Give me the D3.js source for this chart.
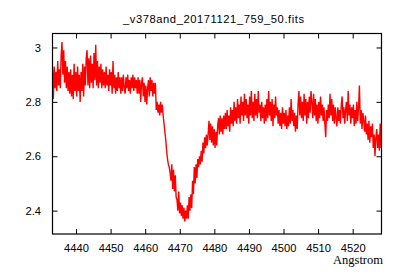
<!DOCTYPE html>
<html>
<head>
<meta charset="utf-8">
<script src="https://cdn.jsdelivr.net/npm/d3@7"></script>
<style>
  html, body { margin: 0; padding: 0; background: #fff; }
  svg { display: block; }
  .tick text { font-family: "Liberation Sans", Arial, sans-serif; font-size: 11.2px; fill: #000; }
</style>
</head>
<body>
<svg id="chart" width="400" height="280"></svg>
<script>
// ---- data ----
const titleText = "_v378and_20171121_759_50.fits";
const xLabel = "Angstrom";
const wlStart = 4433.2;   // first wavelength of the grid (Angstrom)
const wlStep = 0.25;      // grid spacing (Angstrom)
const flux = [
  // 4433.20 - 4437.95
  2.92, 2.81, 2.93, 2.85, 2.91, 2.84, 2.95, 2.86, 2.92, 2.85, 2.97, 3.02, 2.90, 2.99, 2.87, 2.95, 2.85, 2.93, 2.84, 2.91,
  // 4438.20 - 4442.95
  2.83, 2.92, 2.82, 2.90, 2.81, 2.94, 2.84, 2.91, 2.82, 2.93, 2.84, 2.90, 2.80, 2.91, 2.84, 2.94, 2.82, 2.93, 2.86, 2.96,
  // 4443.20 - 4447.95
  2.99, 2.86, 2.96, 2.85, 2.97, 2.87, 2.94, 2.85, 2.98, 2.88, 3.01, 2.86, 2.95, 2.85, 2.93, 2.87, 2.94, 2.85, 2.92, 2.86,
  // 4448.20 - 4452.95
  2.91, 2.85, 2.93, 2.86, 2.90, 2.84, 2.92, 2.86, 2.91, 2.83, 2.95, 2.85, 2.90, 2.83, 2.89, 2.84, 2.91, 2.85, 2.89, 2.83,
  // 4453.20 - 4457.95
  2.89, 2.84, 2.90, 2.85, 2.83, 2.89, 2.85, 2.90, 2.84, 2.88, 2.83, 2.89, 2.85, 2.90, 2.84, 2.89, 2.85, 2.88, 2.83, 2.89,
  // 4458.20 - 4462.95
  2.83, 2.88, 2.80, 2.87, 2.89, 2.82, 2.87, 2.80, 2.86, 2.79, 2.85, 2.88, 2.82, 2.89, 2.84, 2.88, 2.82, 2.87, 2.83, 2.87,
  // 4463.20 - 4467.95
  2.77, 2.80, 2.76, 2.79, 2.75, 2.80, 2.76, 2.79, 2.75, 2.72, 2.69, 2.66, 2.62, 2.59, 2.57, 2.56, 2.54, 2.51, 2.57, 2.48,
  // 4468.20 - 4472.95
  2.55, 2.47, 2.53, 2.45, 2.44, 2.40, 2.47, 2.39, 2.43, 2.38, 2.42, 2.37, 2.41, 2.36, 2.40, 2.37, 2.42, 2.37, 2.45, 2.40,
  // 4473.20 - 4477.95
  2.46, 2.41, 2.51, 2.46, 2.56, 2.50, 2.57, 2.52, 2.59, 2.56, 2.60, 2.57, 2.62, 2.58, 2.65, 2.61, 2.67, 2.63, 2.68, 2.64,
  // 4478.20 - 4482.95
  2.68, 2.73, 2.66, 2.72, 2.65, 2.71, 2.64, 2.70, 2.63, 2.69, 2.64, 2.71, 2.74, 2.68, 2.75, 2.69, 2.74, 2.68, 2.75, 2.70,
  // 4483.20 - 4487.95
  2.76, 2.70, 2.77, 2.71, 2.75, 2.69, 2.78, 2.72, 2.77, 2.71, 2.80, 2.73, 2.78, 2.72, 2.81, 2.74, 2.79, 2.72, 2.82, 2.75,
  // 4488.20 - 4492.95
  2.80, 2.73, 2.83, 2.75, 2.81, 2.74, 2.79, 2.72, 2.82, 2.75, 2.84, 2.74, 2.80, 2.73, 2.83, 2.75, 2.81, 2.74, 2.84, 2.76,
  // 4493.20 - 4497.95
  2.79, 2.73, 2.80, 2.74, 2.78, 2.72, 2.79, 2.73, 2.81, 2.74, 2.84, 2.75, 2.80, 2.73, 2.81, 2.71, 2.79, 2.74, 2.82, 2.75,
  // 4498.20 - 4502.95
  2.78, 2.72, 2.77, 2.71, 2.76, 2.70, 2.78, 2.72, 2.76, 2.71, 2.77, 2.70, 2.75, 2.71, 2.78, 2.72, 2.81, 2.73, 2.77, 2.71,
  // 4503.20 - 4507.95
  2.76, 2.69, 2.75, 2.70, 2.79, 2.84, 2.75, 2.82, 2.74, 2.80, 2.73, 2.83, 2.75, 2.81, 2.72, 2.80, 2.74, 2.82, 2.76, 2.84,
  // 4508.20 - 4512.95
  2.80, 2.74, 2.83, 2.75, 2.81, 2.73, 2.79, 2.72, 2.80, 2.74, 2.82, 2.75, 2.79, 2.73, 2.78, 2.72, 2.67, 2.77, 2.73, 2.79,
  // 4513.20 - 4517.95
  2.74, 2.83, 2.75, 2.81, 2.73, 2.79, 2.72, 2.78, 2.74, 2.71, 2.78, 2.73, 2.77, 2.72, 2.79, 2.82, 2.74, 2.78, 2.72, 2.77,
  // 4518.20 - 4522.95
  2.80, 2.73, 2.84, 2.75, 2.79, 2.72, 2.78, 2.74, 2.79, 2.71, 2.77, 2.72, 2.80, 2.73, 2.78, 2.86, 2.72, 2.77, 2.70, 2.76,
  // 4523.20 - 4527.95
  2.73, 2.69, 2.75, 2.68, 2.72, 2.66, 2.73, 2.65, 2.71, 2.67, 2.72, 2.63, 2.68, 2.60, 2.67, 2.70, 2.63, 2.68, 2.62, 2.72,
  // 4528.20
  2.63
];
const xTicks = [4440, 4450, 4460, 4470, 4480, 4490, 4500, 4510, 4520];
const yTicks = [2.4, 2.6, 2.8, 3];
const xDomain = [4433.2, 4528.33];
const yDomain = [2.314, 3.0514];

// ---- layout ----
const L = 52.5, R = 381.5, T = 33.5, B = 234;
const svg = d3.select("#chart");

const x = d3.scaleLinear().domain(xDomain).range([L, R]);
const y = d3.scaleLinear().domain(yDomain).range([B, T]);

const pts = flux.map((v, i) => ({ w: wlStart + i * wlStep, f: v }));

svg.append("defs").append("clipPath").attr("id", "clip")
  .append("rect").attr("x", L).attr("y", T).attr("width", R - L).attr("height", B - T);

svg.append("path")
  .datum(pts)
  .attr("clip-path", "url(#clip)")
  .attr("fill", "none")
  .attr("stroke", "#ff0000")
  .attr("stroke-width", 1.4)
  .attr("d", d3.line().x(d => x(d.w)).y(d => y(d.f)));

// axes (inward ticks on all four sides)
const gB = svg.append("g").attr("transform", `translate(0,${B})`)
  .call(d3.axisBottom(x).tickValues(xTicks).tickSizeInner(-5).tickSizeOuter(0).tickPadding(10).tickFormat(d3.format("d")));
const gL = svg.append("g").attr("transform", `translate(${L},0)`)
  .call(d3.axisLeft(y).tickValues(yTicks).tickSizeInner(-5).tickSizeOuter(0).tickPadding(11.5).tickFormat(d => String(d)));
const gT = svg.append("g").attr("transform", `translate(0,${T})`)
  .call(d3.axisTop(x).tickValues(xTicks).tickSizeInner(-5).tickSizeOuter(0).tickFormat(""));
const gR = svg.append("g").attr("transform", `translate(${R},0)`)
  .call(d3.axisRight(y).tickValues(yTicks).tickSizeInner(-5).tickSizeOuter(0).tickFormat(""));
[gB, gL, gT, gR].forEach(g => {
  g.select(".domain").remove();
  g.selectAll(".tick line").attr("stroke", "#000").attr("stroke-width", 1);
});

// frame
svg.append("rect")
  .attr("x", L).attr("y", T).attr("width", R - L).attr("height", B - T)
  .attr("fill", "none").attr("stroke", "#000").attr("stroke-width", 1.2);

// title
svg.append("text")
  .attr("x", 213.5).attr("y", 22.7)
  .attr("text-anchor", "middle")
  .attr("font-family", "Liberation Sans, Arial, sans-serif")
  .attr("font-size", 11.2)
  .attr("textLength", 181).attr("lengthAdjust", "spacing")
  .text(titleText);

// x-axis label
svg.append("text")
  .attr("x", 383).attr("y", 264)
  .attr("text-anchor", "end")
  .attr("font-family", "Liberation Serif, Times New Roman, serif")
  .attr("font-size", 12.5)
  .text(xLabel);
</script>
</body>
</html>
